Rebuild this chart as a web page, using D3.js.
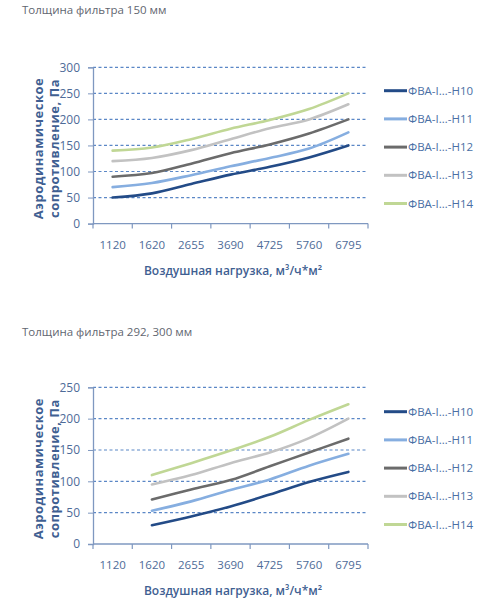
<!DOCTYPE html>
<html>
<head>
<meta charset="utf-8">
<script src="https://cdn.jsdelivr.net/npm/d3@7"></script>
<style>
  body { margin: 0; background: #fff; }
  svg { display: block; font-family: "Open Sans", "Noto Sans", sans-serif; }
</style>
</head>
<body>
<div id="chart"></div>
<script>
// categories on the x axis (air load, m3/h*m2)
var categories = ["1120", "1620", "2655", "3690", "4725", "5760", "6795"];
var seriesNames = ["ФВА-I…-Н10", "ФВА-I…-Н11", "ФВА-I…-Н12", "ФВА-I…-Н13", "ФВА-I…-Н14"];
var seriesColors = ["#234b87", "#86aee0", "#6b6b6b", "#c2c2c2", "#c0d795"];

// filter 150 mm
var f150_H10 = [50, 58, 76, 94, 109, 127, 150];
var f150_H11 = [70, 78, 93, 110, 126, 144, 175];
var f150_H12 = [90, 97, 115, 135, 152, 173, 200];
var f150_H13 = [120, 126, 141, 162, 183, 200, 229];
var f150_H14 = [140, 146, 162, 182, 199, 220, 250];
var f150_yTicks = [0, 50, 100, 150, 200, 250, 300];

// filter 292, 300 mm (no value at 1120)
var f300_H10 = [null, 30, 44, 60, 79, 99, 115];
var f300_H11 = [null, 53, 68, 86, 103, 125, 144];
var f300_H12 = [null, 71, 87, 102, 124, 146, 168];
var f300_H13 = [null, 95, 110, 129, 146, 169, 200];
var f300_H14 = [null, 110, 129, 149, 171, 198, 223];
var f300_yTicks = [0, 50, 100, 150, 200, 250];

var svg = d3.select("#chart").append("svg")
    .attr("width", 500).attr("height", 600);

var left = 93, right = 368;

function drawChart(cfg) {
  var g = svg.append("g");

  g.append("text")
      .attr("x", 22).attr("y", cfg.titleY)
      .attr("fill", "#5f6670").style("font-size", "11.5px")
      .text(cfg.title);

  var x = d3.scaleBand().domain(categories).range([left, right]).padding(0);
  var y = d3.scaleLinear().domain([0, d3.max(cfg.yTicks)]).range([cfg.bottom, cfg.top]);

  // dashed gridlines
  g.selectAll(".grid").data(cfg.yTicks.filter(function(d) { return d > 0; }))
    .enter().append("line")
      .attr("x1", left).attr("x2", right)
      .attr("y1", function(d) { return y(d); }).attr("y2", function(d) { return y(d); })
      .attr("stroke", "#5b87c6").attr("stroke-width", 1.2)
      .attr("stroke-dasharray", "3,2.5");

  // y axis
  var yAxis = g.append("g").attr("transform", "translate(" + left + ",0)")
      .call(d3.axisLeft(y).tickValues(cfg.yTicks).tickSize(5).tickPadding(8));
  yAxis.select(".domain").attr("stroke", "#7f98c0").attr("stroke-width", 1.3);
  yAxis.selectAll(".tick line").attr("stroke", "#7f98c0");
  yAxis.selectAll("text").attr("fill", "#4e6b98").style("font-size", "12px")
      .style("font-family", "'Open Sans', sans-serif");

  // x axis: line, ticks at band edges, labels at band centres
  g.append("line")
      .attr("x1", left).attr("x2", right)
      .attr("y1", cfg.bottom).attr("y2", cfg.bottom)
      .attr("stroke", "#7f98c0").attr("stroke-width", 1.3);
  var edges = categories.map(function(c) { return x(c); }).concat([right]);
  g.selectAll(".xt").data(edges).enter().append("line")
      .attr("x1", function(d) { return d; }).attr("x2", function(d) { return d; })
      .attr("y1", cfg.bottom).attr("y2", cfg.bottom + 5)
      .attr("stroke", "#7f98c0").attr("stroke-width", 1.2);
  g.selectAll(".xl").data(categories).enter().append("text")
      .attr("x", function(d) { return x(d) + x.bandwidth() / 2; })
      .attr("y", cfg.bottom + 25)
      .attr("text-anchor", "middle")
      .attr("fill", "#4e6b98").style("font-size", "11.5px")
      .text(function(d) { return d; });

  // axis titles
  g.append("text")
      .attr("x", 233).attr("y", cfg.bottom + 51)
      .attr("text-anchor", "middle")
      .attr("fill", "#3f5f92").style("font-size", "12px").style("font-weight", 600)
      .text("Воздушная нагрузка, м³/ч*м²");
  var ty = g.append("text")
      .attr("transform", "translate(0," + ((cfg.top + cfg.bottom) / 2 + 3) + ") rotate(-90)")
      .attr("text-anchor", "middle")
      .attr("fill", "#3f5f92").style("font-size", "13px").style("font-weight", 700)
      .style("letter-spacing", "0.5px");
  ty.append("tspan").attr("x", 0).attr("y", 43).text("Аэродинамическое");
  ty.append("tspan").attr("x", 0).attr("y", 59).text("сопротивление, Па");

  // smoothed lines
  var line = d3.line()
      .defined(function(d) { return d != null; })
      .x(function(d, i) { return x(categories[i]) + x.bandwidth() / 2; })
      .y(function(d) { return y(d); })
      .curve(d3.curveCatmullRom.alpha(0.5));
  cfg.series.forEach(function(s, k) {
    g.append("path")
        .attr("d", line(s))
        .attr("fill", "none")
        .attr("stroke", seriesColors[k])
        .attr("stroke-width", 2.6)
        .attr("stroke-linecap", "round");
  });

  // legend
  seriesNames.forEach(function(name, k) {
    var ly = cfg.legendY + k * 28.2;
    g.append("line")
        .attr("x1", 384).attr("x2", 407).attr("y1", ly).attr("y2", ly)
        .attr("stroke", seriesColors[k]).attr("stroke-width", 3);
    g.append("text")
        .attr("x", 408).attr("y", ly + 4)
        .attr("fill", "#4a6fa5").style("font-size", "11.5px")
        .text(name);
  });
}

drawChart({
  title: "Толщина фильтра 150 мм", titleY: 14,
  top: 67.3, bottom: 223.6, yTicks: f150_yTicks,
  series: [f150_H10, f150_H11, f150_H12, f150_H13, f150_H14],
  legendY: 90.7
});

drawChart({
  title: "Толщина фильтра 292, 300 мм", titleY: 336,
  top: 387.3, bottom: 544, yTicks: f300_yTicks,
  series: [f300_H10, f300_H11, f300_H12, f300_H13, f300_H14],
  legendY: 411.7
});
</script>
</body>
</html>
